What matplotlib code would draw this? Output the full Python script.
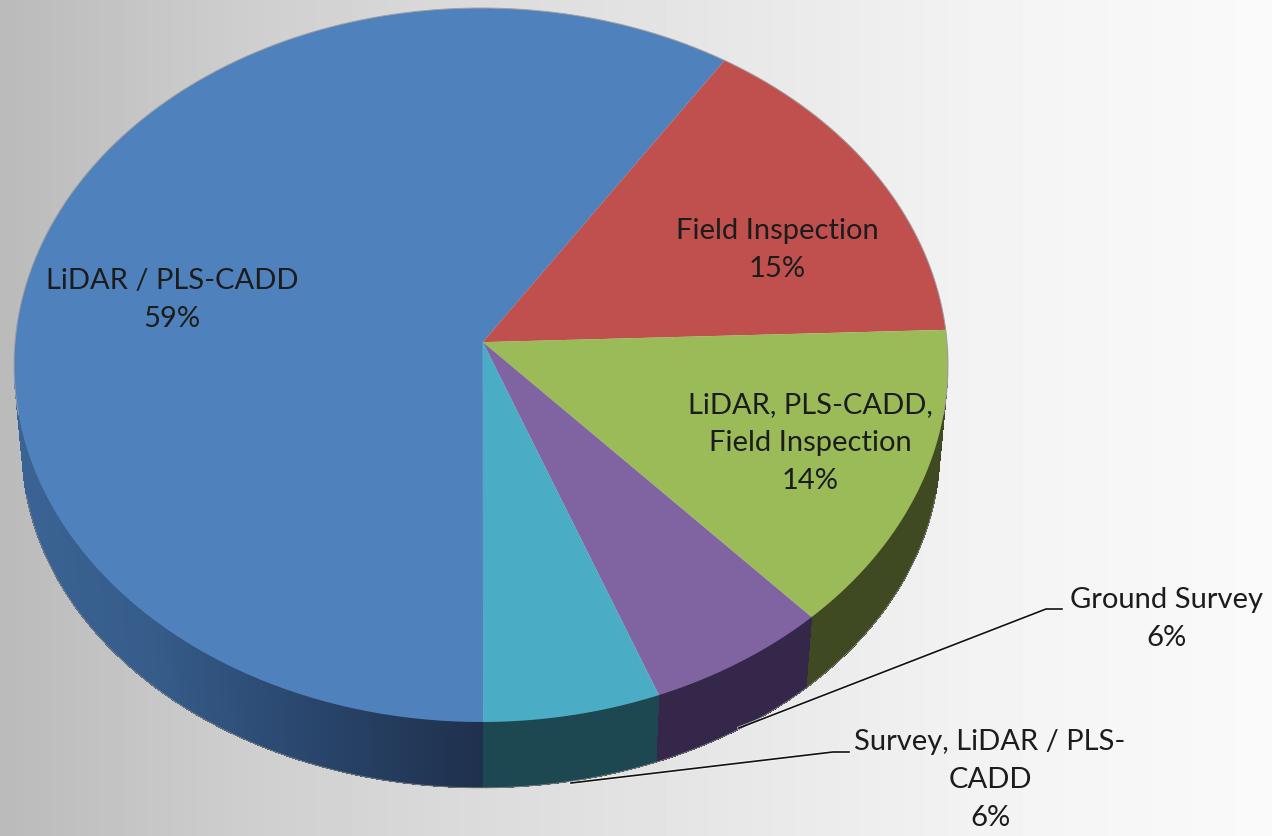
# Pie chart with fake 3D side wall, drawn on a gray gradient slide background
import numpy as np
import matplotlib
matplotlib.use('Agg')
import matplotlib.pyplot as plt
from matplotlib.collections import PolyCollection
from matplotlib.path import Path

plt.rcParams['font.family'] = ['Lato', 'DejaVu Sans']

# Slices, clockwise from straight down
labels = ['LiDAR / PLS-CADD', 'Field Inspection', 'LiDAR, PLS-CADD,\nField Inspection',
          'Ground Survey', 'Survey, LiDAR / PLS-\nCADD']
shares = [58.8, 14.7, 14.05, 6.3, 6.15]
colors = ['#4F81BD', '#C0504D', '#9BBB59', '#8064A2', '#4BACC6']
side_colors = ['#3A6699', '#7A3330', '#3F4A22', '#35274A', '#1D4852']

W, H = 1272, 836
fig = plt.figure(figsize=(W / 100, H / 100), dpi=100)


def box(x0, y0, x1, y1):
    # pixel box to figure fractions
    return [x0 / W, 1 - y1 / H, (x1 - x0) / W, (y1 - y0) / H]


# background gradient
ax_bg = fig.add_axes([0, 0, 1, 1], zorder=0)
grad_x = [0, 250, 480, 750, 1000, 1272]
grad_v = [0.73, 0.81, 0.86, 0.91, 0.955, 0.98]
row = np.interp(np.arange(W), grad_x, grad_v)
ax_bg.imshow(row[None, :], cmap='gray', vmin=0, vmax=1, aspect='auto', extent=[0, W, H, 0])
ax_bg.axis('off')

# pie axes: -1..1 covers the top ellipse of the pie
ax = fig.add_axes(box(14, 8, 948, 722), zorder=1)
wedges, _ = ax.pie(shares, colors=colors, startangle=270.25, counterclock=False)
ax.set_aspect('auto')
ax.set_xlim(-1, 1)
ax.set_ylim(-1, 1)
ax.axis('off')

# apex sits above the ellipse centre because of the perspective
apex = (0.004, 0.064)
# bottom ellipse of the side wall
bot_cy, bot_rx, bot_ry = -0.2325, 0.983, 0.952

for w in wedges:
    t = np.radians(np.linspace(w.theta1, w.theta2, 120))
    verts = np.vstack([[apex], np.c_[np.cos(t), np.sin(t)], [apex]])
    w._path = Path(verts)
    w.set_linewidth(0)
    w.set_clip_on(False)
    w.set_zorder(3)

# shade of the blue wall, by horizontal position
shade_x = [-1, -0.7, -0.35, 0]
shade_r = [0.23, 0.21, 0.16, 0.12]
shade_g = [0.39, 0.36, 0.27, 0.19]
shade_b = [0.58, 0.54, 0.42, 0.30]

# side wall from thin quads, blue gets darker towards the front
quads, quad_colors = [], []
for w, c in zip(wedges, side_colors):
    a0, a1 = sorted((w.theta1 % 360, w.theta1 % 360 + (w.theta2 - w.theta1)))
    for a in np.arange(a0, a1, 0.25):
        t = np.radians([a, min(a + 0.5, a1)])
        if np.sin(t).max() > 0.05:
            continue
        top = np.c_[np.cos(t), np.sin(t)]
        bot = np.c_[bot_rx * np.cos(t), bot_cy + bot_ry * np.sin(t)]
        quads.append(np.vstack([top, bot[::-1]]))
        rgb = matplotlib.colors.to_rgb(c)
        if c == side_colors[0]:
            x = np.cos(t).mean()
            rgb = (np.interp(x, shade_x, shade_r), np.interp(x, shade_x, shade_g), np.interp(x, shade_x, shade_b))
        quad_colors.append(rgb)
side = PolyCollection(quads, facecolors=quad_colors, edgecolors='none', antialiaseds=False,
                      zorder=2, clip_on=False)
ax.add_collection(side)

# thin outline of the silhouette
t = np.radians(np.linspace(-8, 188, 300))
ax.plot(np.cos(t), np.sin(t), color='#a0a0a0', lw=0.7, zorder=4, clip_on=False)
t = np.radians(np.linspace(188, 352, 300))
ax.plot(bot_rx * np.cos(t), bot_cy + bot_ry * np.sin(t), color='#808080', lw=0.6, zorder=4, clip_on=False)

# overlay in pixel coordinates for labels and leader lines
ax_top = fig.add_axes([0, 0, 1, 1], zorder=2)
ax_top.set_xlim(0, W)
ax_top.set_ylim(H, 0)
ax_top.axis('off')

label_xy = [(172, 300), (777, 250), (810, 443), (1167, 619), (990, 780)]
for name, share, (x, y) in zip(labels, shares, label_xy):
    ax_top.text(x, y, f'{name}\n{round(share)}%', ha='center', va='center', fontsize=21,
                color='#1c1c1c', linespacing=1.55)

leaders = [([1062, 1046, 739], [609, 609, 728]), ([849, 833, 571], [752, 752, 783])]
for lx, ly in leaders:
    ax_top.plot(lx, ly, color='white', lw=2.4, alpha=0.6)
    ax_top.plot(lx, ly, color='#111111', lw=1.2)

fig.savefig('out.png', dpi=100)
